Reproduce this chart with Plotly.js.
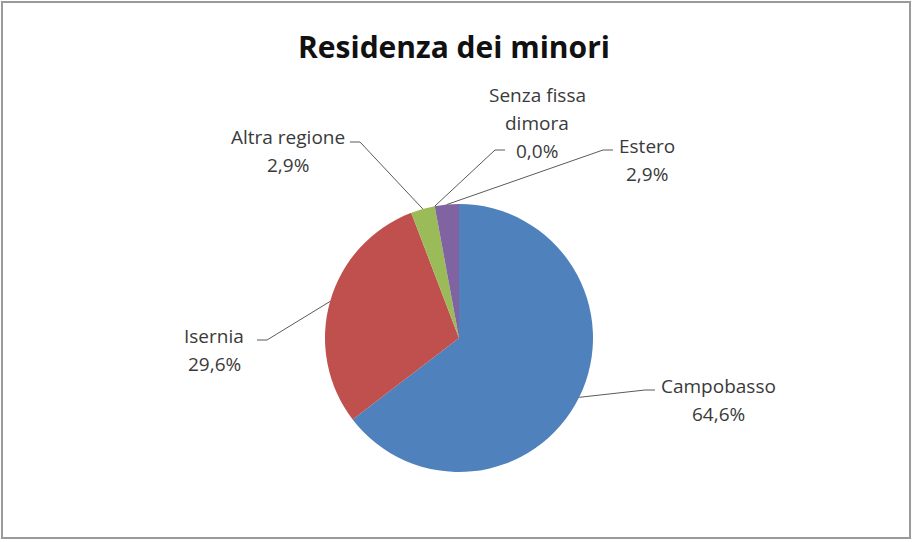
<!DOCTYPE html>
<html>
<head>
<meta charset="utf-8">
<script src="https://cdn.plot.ly/plotly-3.0.1.min.js"></script>
<style>
  html, body { margin: 0; padding: 0; background: #ffffff; }
  #chart { width: 912px; height: 542px; }
</style>
</head>
<body>
<div id="chart"></div>
<script>
// ---- data ----
const categories = ['Campobasso', 'Isernia', 'Altra regione', 'Senza fissa dimora', 'Estero'];
const displayLines = [['Campobasso'], ['Isernia'], ['Altra regione'], ['Senza fissa', 'dimora'], ['Estero']];
const values = [64.6, 29.6, 2.9, 0.0, 2.9];
const colors = ['#4F81BD', '#C0504D', '#9BBB59', '#4BACC6', '#8064A2'];

// ---- layout helpers (pixel geometry) ----
const W = 912, H = 542;
const pieBox = { left: 325, right: 593, top: 204, bottom: 472 };
// centre of first text line of each label and leader-line start points (pixels)
const labelFirstLine = [[718, 386], [214, 336], [288, 137], [537, 95], [647, 146]];
const lineStep = 28;
const leaderStart = [[655, 390], [257, 340], [350, 142], [505, 150], [613, 150]];
const elbowDir = [-1, 1, 1, -1, -1];

const px = x => x / W;
const py = y => 1 - y / H;

const cx = (pieBox.left + pieBox.right) / 2;
const cy = (pieBox.top + pieBox.bottom) / 2;
const R = Math.min(pieBox.right - pieBox.left, pieBox.bottom - pieBox.top) / 2;
const total = values.reduce((a, b) => a + b, 0);

const fmt = v => v.toFixed(1).replace('.', ',') + '%';

const annotations = [];
const shapes = [];
let cum = 0;
values.forEach((v, i) => {
  const mid = (cum + v / 2) / total * 2 * Math.PI; // clockwise from 12 o'clock
  cum += v;
  const ex = cx + R * Math.sin(mid);
  const ey = cy - R * Math.cos(mid);
  const [sx, sy] = leaderStart[i];
  const bx = sx + elbowDir[i] * 10;
  shapes.push({
    type: 'path', xref: 'paper', yref: 'paper',
    path: `M ${px(sx)} ${py(sy)} L ${px(bx)} ${py(sy)} L ${px(ex)} ${py(ey)}`,
    line: { color: '#5a5a5a', width: 1 }
  });
  const lines = displayLines[i].concat([fmt(v)]);
  lines.forEach((t, k) => {
    annotations.push({
      xref: 'paper', yref: 'paper',
      x: px(labelFirstLine[i][0]), y: py(labelFirstLine[i][1] + k * lineStep),
      xanchor: 'center', yanchor: 'middle', align: 'center',
      showarrow: false,
      text: t,
      font: { family: 'Open Sans, sans-serif', size: 19, color: '#3a3a3a' }
    });
  });
});

// outer frame
shapes.push({
  type: 'rect', xref: 'paper', yref: 'paper',
  x0: px(2), x1: px(910), y0: py(538), y1: py(2),
  line: { color: '#9a9a9a', width: 2 }
});

const trace = {
  type: 'pie',
  labels: categories,
  values: values,
  sort: false,
  direction: 'clockwise',
  rotation: 0,
  marker: { colors: colors, line: { width: 0 } },
  textinfo: 'none',
  hoverinfo: 'label+percent',
  showlegend: false,
  domain: { x: [px(pieBox.left), px(pieBox.right)], y: [py(pieBox.bottom), py(pieBox.top)] }
};

const layout = {
  width: W, height: H,
  margin: { l: 0, r: 0, t: 0, b: 0 },
  paper_bgcolor: '#ffffff',
  title: {
    text: '<b>Residenza dei minori</b>',
    font: { family: 'Open Sans, sans-serif', size: 30, color: '#111111' },
    x: px(454), xanchor: 'center',
    y: py(47), yanchor: 'middle', yref: 'paper'
  },
  showlegend: false,
  annotations: annotations,
  shapes: shapes
};

Plotly.newPlot('chart', [trace], layout, { displayModeBar: false, staticPlot: true });
</script>
</body>
</html>
